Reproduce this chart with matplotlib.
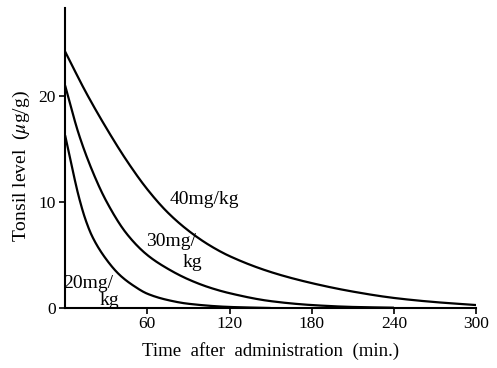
import numpy as np
import matplotlib
matplotlib.use("Agg")
import matplotlib.pyplot as plt

plt.rcParams['font.family'] = ['Liberation Serif', 'DejaVu Serif']
plt.rcParams['mathtext.fontset'] = 'stix'

# values (time in min, level in ug/g)
t40 = [0, 15, 30, 45, 60, 75, 90, 105, 120, 150, 180, 210, 240, 270, 300]
y40 = [24.2, 20.4, 17.0, 13.9, 11.2, 9.0, 7.3, 5.95, 4.9, 3.4, 2.35, 1.55, 0.95, 0.56, 0.28]

t30 = [0, 10, 20, 30, 45, 60, 75, 90, 105, 120, 150, 180, 210, 240]
y30 = [21.0, 16.4, 12.9, 10.1, 7.0, 5.0, 3.7, 2.7, 1.95, 1.4, 0.65, 0.28, 0.1, 0.03]

t20 = [0, 5, 10, 15, 20, 30, 40, 50, 60, 75, 90, 120, 150]
y20 = [16.3, 13.3, 10.5, 8.3, 6.7, 4.6, 3.1, 2.1, 1.35, 0.75, 0.4, 0.1, 0.0]

xticks = [60, 120, 180, 240, 300]
yticks = [0, 10, 20]


def pchip(x, y, xn):
    # monotone cubic (Fritsch-Carlson) so the curves stay smooth
    x = np.asarray(x, float)
    y = np.asarray(y, float)
    h = np.diff(x)
    d = np.diff(y) / h
    m = np.zeros_like(y)
    for i in range(1, len(y) - 1):
        if d[i - 1] * d[i] > 0:
            w1 = 2 * h[i] + h[i - 1]
            w2 = h[i] + 2 * h[i - 1]
            m[i] = (w1 + w2) / (w1 / d[i - 1] + w2 / d[i])
    m[0] = d[0]
    m[-1] = d[-1]
    idx = np.clip(np.searchsorted(x, xn) - 1, 0, len(h) - 1)
    s = (xn - x[idx]) / h[idx]
    h00 = 2 * s**3 - 3 * s**2 + 1
    h10 = s**3 - 2 * s**2 + s
    h01 = -2 * s**3 + 3 * s**2
    h11 = s**3 - s**2
    return (h00 * y[idx] + h10 * h[idx] * m[idx]
            + h01 * y[idx + 1] + h11 * h[idx] * m[idx + 1])


fig = plt.figure(figsize=(4.97, 3.68), dpi=100)
ax = fig.add_axes([0.131, 0.163, 0.827, 0.815])

for t, y in [(t40, y40), (t30, y30), (t20, y20)]:
    tt = np.linspace(t[0], t[-1], 400)
    ax.plot(tt, pchip(t, y, tt), color='black', lw=1.6, solid_capstyle='butt')

ax.set_xlim(0, 300)
ax.set_ylim(0, 28.3)
ax.set_xticks(xticks)
ax.set_yticks(yticks)
ax.tick_params(direction='out', length=4.5, width=1.2, labelsize=12.5)
ax.tick_params(axis='x', pad=1.5)
ax.tick_params(axis='y', pad=2)
for s in ['top', 'right']:
    ax.spines[s].set_visible(False)
for s in ['left', 'bottom']:
    ax.spines[s].set_linewidth(1.5)

ax.set_xlabel('Time  after  administration  (min.)', fontsize=13.5, labelpad=7)
ax.set_ylabel('Tonsil level  ($\\mu$g/g)', fontsize=14)
ax.yaxis.set_label_coords(-0.08, 0.473)

fs = 14
ax.text(76, 10.2, '40mg/kg', fontsize=fs, va='center')
ax.text(59, 6.3, '30mg/', fontsize=fs, va='center')
ax.text(86, 4.3, 'kg', fontsize=fs, va='center')
ax.text(-1.4, 2.3, '20mg/', fontsize=fs, va='center')
ax.text(25, 0.75, 'kg', fontsize=fs, va='center')

fig.savefig('out.png', dpi=100)
